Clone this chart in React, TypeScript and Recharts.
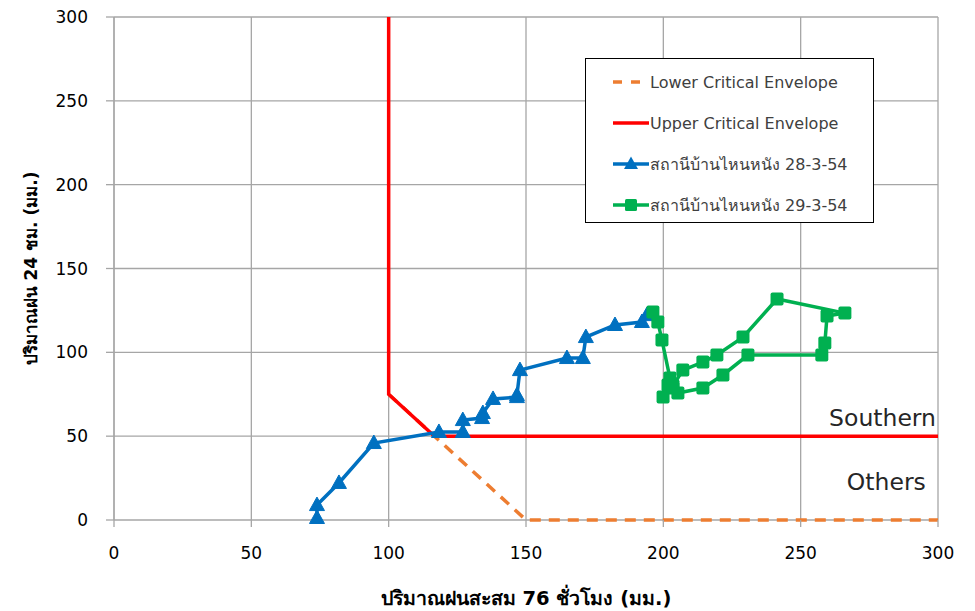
import React from 'react';
import { LineChart, Line, XAxis, YAxis, CartesianGrid, ReferenceDot } from 'recharts';

const xTicks = [0, 50, 100, 150, 200, 250, 300];
const yTicks = [0, 50, 100, 150, 200, 250, 300];

const lowerX = [100, 150, 300];
const lowerY = [75, 0, 0];

const upperX = [100, 100, 116.67, 300];
const upperY = [300, 75, 50, 50];

const st1X = [73.9, 73.9, 81.9, 94.6, 118.3, 127.0, 127.0, 134.0, 134.3, 138.0, 146.7, 146.7, 147.8, 164.9, 170.7, 171.8, 182.4, 192.2, 194.0];
const st1Y = [1.2, 8.9, 22.1, 45.9, 52.5, 52.5, 59.6, 60.8, 63.8, 72.2, 73.3, 74.5, 89.4, 96.6, 96.6, 109.1, 116.3, 118.1, 122.2];

const st2X = [196.2, 198.0, 199.5, 202.4, 201.7, 199.9, 203.5, 205.3, 214.4, 221.7, 230.8, 257.7, 258.8, 259.6, 266.1, 241.4, 229.0, 219.5, 214.4, 207.1, 203.5];
const st2Y = [124.0, 118.1, 107.3, 84.7, 80.5, 73.3, 78.7, 75.7, 78.7, 86.5, 98.4, 98.4, 105.5, 121.6, 123.4, 131.8, 109.1, 98.4, 94.2, 89.4, 80.0];

const seriesNames = [
  'Lower Critical Envelope',
  'Upper Critical Envelope',
  'สถานีบ้านไหนหนัง 28-3-54',
  'สถานีบ้านไหนหนัง 29-3-54',
];

const zip = (xs: number[], ys: number[]) => xs.map((x, i) => ({ x, y: ys[i] }));

const lowerData = zip(lowerX, lowerY);
const upperData = zip(upperX, upperY);
const st1Data = zip(st1X, st1Y);
const st2Data = zip(st2X, st2Y);

const BLUE = '#0070C0';
const GREEN = '#00B050';
const RED = '#FF0000';
const ORANGE = '#ED7D31';
const FONT = '"DejaVu Sans", Tahoma, Verdana, sans-serif';

const Triangle = (props: any) => {
  const { cx, cy, index } = props;
  if (cx == null || cy == null) return <g key={`t${index}`} />;
  return <path key={`t${index}`} d={`M${cx},${cy - 8} L${cx + 7.5},${cy + 5.5} L${cx - 7.5},${cy + 5.5} Z`} fill={BLUE} stroke={BLUE} strokeWidth={1} strokeLinejoin="round" />;
};

const Square = (props: any) => {
  const { cx, cy, index } = props;
  if (cx == null || cy == null) return <g key={`s${index}`} />;
  return <rect key={`s${index}`} x={cx - 6.5} y={cy - 6.5} width={13} height={13} rx={2} fill={GREEN} />;
};

const LegendBox = () => {
  const rows = [
    { name: seriesNames[0], color: ORANGE, dash: true, marker: null },
    { name: seriesNames[1], color: RED, dash: false, marker: null },
    { name: seriesNames[2], color: BLUE, dash: false, marker: 'tri' },
    { name: seriesNames[3], color: GREEN, dash: false, marker: 'sq' },
  ];
  return (
    <div style={{ position: 'absolute', left: 585, top: 58, width: 289, height: 165, border: '1.5px solid #000', background: '#fff', boxSizing: 'border-box' }}>
      {rows.map((r, i) => (
        <div key={i} style={{ position: 'absolute', left: 26, top: 10 + i * 41, height: 26, display: 'flex', alignItems: 'center' }}>
          <svg width={38} height={26} style={{ display: 'block' }}>
            <line x1={1} y1={13} x2={37} y2={13} stroke={r.color} strokeWidth={3.5} strokeDasharray={r.dash ? '9 9' : undefined} />
            {r.marker === 'tri' && <path d="M19,5.5 L26,18 L12,18 Z" fill={r.color} />}
            {r.marker === 'sq' && <rect x={13} y={7} width={12} height={12} rx={1.5} fill={r.color} />}
          </svg>
          <span style={{ fontFamily: FONT, fontSize: 16, color: '#404040', whiteSpace: 'nowrap', marginLeft: 0 }}>{r.name}</span>
        </div>
      ))}
    </div>
  );
};

const YTitle = (props: any) => {
  const vb = props.viewBox || { x: 0, y: 0, width: 0, height: 0 };
  const cx = vb.x - 3;
  const cy = vb.y + vb.height / 2;
  return (
    <text x={cx} y={cy} transform={`rotate(-90, ${cx}, ${cy})`} textAnchor="middle" dominantBaseline="central" fontFamily={FONT} fontWeight="bold" fontSize={17} fill="#000">
      ปริมาณฝน 24 ชม. (มม.)
    </text>
  );
};

const XTitle = (props: any) => {
  const vb = props.viewBox || { x: 0, y: 0, width: 0, height: 0 };
  return (
    <text x={vb.x + vb.width / 2} y={vb.y + 78} textAnchor="middle" dominantBaseline="central" fontFamily={FONT} fontWeight="bold" fontSize={19.5} fill="#000">
      ปริมาณฝนสะสม 76 ชั่วโมง (มม.)
    </text>
  );
};

export default function App() {
  return (
    <div style={{ position: 'absolute', left: 0, top: 0, width: 975, height: 611, background: '#fff' }}>
      <LineChart width={975} height={611} margin={{ top: 17, right: 37, bottom: 51, left: 34 }}>
        <CartesianGrid stroke="#A6A6A6" strokeWidth={1.3} />
        <XAxis
          type="number"
          dataKey="x"
          domain={[0, 300]}
          ticks={xTicks}
          height={40}
          axisLine={false}
          tickLine={{ stroke: '#A6A6A6', strokeWidth: 1.3 }}
          tickSize={7}
          tickMargin={20}
          tick={{ fill: '#000', fontSize: 17, fontFamily: FONT }}
          label={<XTitle />}
        />
        <YAxis
          type="number"
          dataKey="y"
          domain={[0, 300]}
          ticks={yTicks}
          width={80}
          stroke="#A6A6A6"
          strokeWidth={1.3}
          tickSize={8}
          tickMargin={18}
          tick={{ fill: '#000', fontSize: 17, fontFamily: FONT }}
          label={<YTitle />}
        />
        <Line data={lowerData} dataKey="y" name={seriesNames[0]} stroke={ORANGE} strokeWidth={3.5} strokeDasharray="11 8" dot={false} isAnimationActive={false} />
        <Line data={upperData} dataKey="y" name={seriesNames[1]} stroke={RED} strokeWidth={3.5} dot={false} isAnimationActive={false} />
        <Line data={st1Data} dataKey="y" name={seriesNames[2]} stroke={BLUE} strokeWidth={3.5} dot={Triangle} activeDot={false} isAnimationActive={false} />
        <Line data={st2Data} dataKey="y" name={seriesNames[3]} stroke={GREEN} strokeWidth={3.5} dot={Square} activeDot={false} isAnimationActive={false} />
        <ReferenceDot x={300} y={60.8} r={1} fill="none" stroke="none" label={{ value: 'Southern', position: 'left', offset: 1, fill: '#262626', fontSize: 23.5, fontFamily: FONT }} />
        <ReferenceDot x={296.3} y={22.7} r={1} fill="none" stroke="none" label={{ value: 'Others', position: 'left', offset: 1, fill: '#262626', fontSize: 23.5, fontFamily: FONT }} />
      </LineChart>
      <LegendBox />
    </div>
  );
}
